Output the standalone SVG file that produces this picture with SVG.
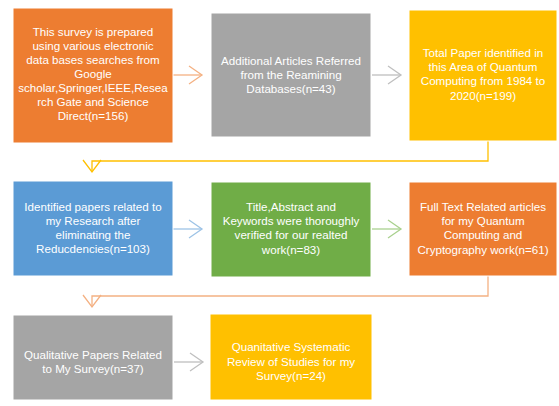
<svg xmlns="http://www.w3.org/2000/svg" width="559" height="406" viewBox="0 0 559 406">
<style>
.box{stroke:#ffffff;stroke-width:1}
.t{font-family:"Liberation Sans","Open Sans",sans-serif;font-size:11.6px;fill:#ffffff;text-anchor:middle}
.c{fill:none;stroke-width:1.3}
</style>
<rect width="559" height="406" fill="#ffffff"/>
<g id="connectors">
<g stroke="#F4B183" class="c"><path d="M173 75H202"/><path d="M189 66L202 75L189 84"/></g>
<g stroke="#BFBFBF" class="c"><path d="M372 75H401"/><path d="M388 66L401 75L388 84"/></g>
<g stroke="#FFC000" class="c"><path d="M488 141V161H92V172"/><path d="M83 160L92 172L101 160"/></g>
<g stroke="#9DC3E6" class="c"><path d="M173 229H202"/><path d="M189 220L202 229L189 238"/></g>
<g stroke="#A9D18E" class="c"><path d="M372 229H401"/><path d="M388 220L401 229L388 238"/></g>
<g stroke="#F4B183" class="c"><path d="M488 276V296H92V307"/><path d="M83 295L92 307L101 295"/></g>
<g stroke="#BFBFBF" class="c"><path d="M174 362H203"/><path d="M190 353L203 362L190 371"/></g>
</g>
<g id="n1"><rect class="box" x="13" y="8" width="160" height="135" fill="#ED7D31"/>
<text class="t"><tspan x="93" y="36">This survey is prepared</tspan><tspan x="93" y="50">using various electronic</tspan><tspan x="93" y="64">data bases searches from</tspan><tspan x="93" y="78">Google</tspan><tspan x="93" y="92">scholar,Springer,IEEE,Resea</tspan><tspan x="93" y="106">rch Gate and Science</tspan><tspan x="93" y="120">Direct(n=156)</tspan></text></g>
<g id="n2"><rect class="box" x="211" y="13" width="160" height="124" fill="#A5A5A5"/>
<text class="t"><tspan x="291" y="65">Additional Articles Referred</tspan><tspan x="291" y="79">from the Reamining</tspan><tspan x="291" y="93">Databases(n=43)</tspan></text></g>
<g id="n3"><rect class="box" x="409" y="10" width="148" height="131" fill="#FFC000"/>
<text class="t"><tspan x="483" y="57">Total Paper identified in</tspan><tspan x="483" y="71">this Area of Quantum</tspan><tspan x="483" y="85">Computing from 1984 to</tspan><tspan x="483" y="100">2020(n=199)</tspan></text></g>
<g id="n4"><rect class="box" x="13" y="181" width="160" height="95" fill="#5B9BD5"/>
<text class="t"><tspan x="93" y="211">Identified papers related to</tspan><tspan x="93" y="225">my Research after</tspan><tspan x="93" y="239">eliminating the</tspan><tspan x="93" y="253">Reducdencies(n=103)</tspan></text></g>
<g id="n5"><rect class="box" x="211" y="182" width="160" height="95" fill="#70AD47"/>
<text class="t"><tspan x="291" y="211">Title,Abstract and</tspan><tspan x="291" y="225">Keywords were thoroughly</tspan><tspan x="291" y="239">verified for our realted</tspan><tspan x="291" y="254">work(n=83)</tspan></text></g>
<g id="n6"><rect class="box" x="409" y="182" width="148" height="94" fill="#ED7D31"/>
<text class="t"><tspan x="483" y="211">Full Text Related articles</tspan><tspan x="483" y="225">for my Quantum</tspan><tspan x="483" y="239">Computing and</tspan><tspan x="483" y="254">Cryptography work(n=61)</tspan></text></g>
<g id="n7"><rect class="box" x="13" y="315" width="160" height="85" fill="#A5A5A5"/>
<text class="t"><tspan x="93" y="359">Qualitative Papers Related</tspan><tspan x="93" y="373">to My Survey(n=37)</tspan></text></g>
<g id="n8"><rect class="box" x="210" y="314" width="162" height="86" fill="#FFC000"/>
<text class="t"><tspan x="291" y="351">Quanitative Systematic</tspan><tspan x="291" y="366">Review of Studies for my</tspan><tspan x="291" y="380">Survey(n=24)</tspan></text></g>
</svg>
